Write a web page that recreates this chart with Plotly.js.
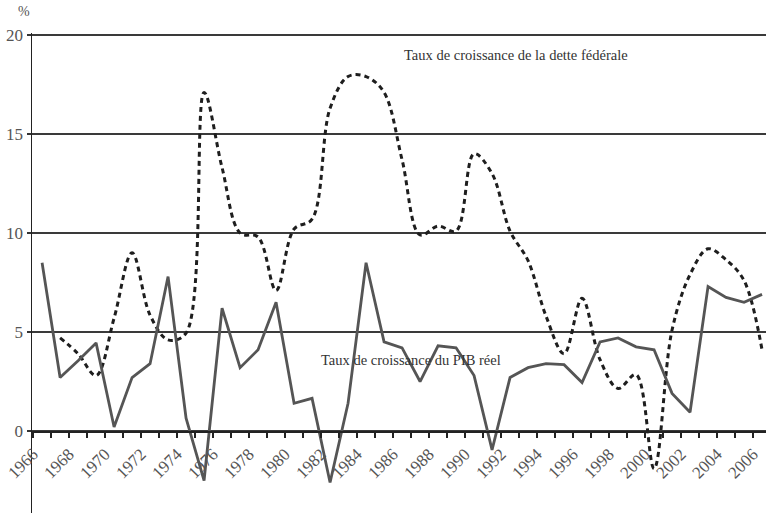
<!DOCTYPE html>
<html>
<head>
<meta charset="utf-8">
<script src="https://cdn.plot.ly/plotly-3.0.1.min.js"></script>
<style>html,body{margin:0;padding:0;background:#fff;}#chart{width:766px;height:513px;}</style>
</head>
<body>
<div id="chart"></div>
<script>
// Years (mid-year positions between yearly tick marks)
const years = [1966.5,1967.5,1968.5,1969.5,1970.5,1971.5,1972.5,1973.5,1974.5,1975.5,
  1976.5,1977.5,1978.5,1979.5,1980.5,1981.5,1982.5,1983.5,1984.5,1985.5,
  1986.5,1987.5,1988.5,1989.5,1990.5,1991.5,1992.5,1993.5,1994.5,1995.5,
  1996.5,1997.5,1998.5,1999.5,2000.5,2001.5,2002.5,2003.5,2004.5,2005.5,2006.5];

// Taux de croissance du PIB réel (%)
const pibReel = [8.5,2.7,3.55,4.45,0.2,2.7,3.4,7.8,0.65,-2.5,
  6.2,3.2,4.1,6.5,1.4,1.65,-2.6,1.4,8.5,4.5,
  4.2,2.5,4.3,4.2,2.8,-0.95,2.7,3.2,3.4,3.35,
  2.45,4.5,4.7,4.25,4.1,1.9,0.95,7.3,6.75,6.5,6.9];

// Taux de croissance de la dette fédérale (%)
const detteFederale = [null,4.7,3.9,2.8,5.7,9.0,5.85,4.6,4.95,17.1,
  13.3,10.0,9.8,7.1,10.2,10.7,16.3,17.9,17.9,17.1,
  13.7,9.9,10.35,10.1,14.0,13.0,10.1,8.6,5.8,3.9,
  6.7,3.6,2.15,2.85,-1.9,5.1,7.9,9.2,8.65,7.6,4.1];

const yTicks = [0,5,10,15,20];
const yRange = [-4.14, 20.1];
const xRange = [1965.94, 2006.72];

const serif = "'Liberation Serif', 'Times New Roman', serif";

const traces = [
  {x: years, y: detteFederale, type: 'scatter', mode: 'lines',
   line: {color: '#1e1e1e', width: 3, dash: '5px,4px', shape: 'spline', smoothing: 1},
   connectgaps: false, hoverinfo: 'skip'},
  {x: years, y: pibReel, type: 'scatter', mode: 'lines',
   line: {color: '#555555', width: 2.8}, hoverinfo: 'skip'}
];

const layout = {
  width: 766, height: 513,
  margin: {l: 32, r: 0, t: 33, b: 0},
  paper_bgcolor: '#fff', plot_bgcolor: '#fff',
  showlegend: false,
  font: {family: serif, color: '#555'},
  xaxis: {
    range: xRange, anchor: 'free',
    position: (0 - yRange[0]) / (yRange[1] - yRange[0]),
    tick0: 1966, dtick: 2, tickangle: -45,
    ticks: 'outside', ticklen: 5, tickwidth: 1.5, tickcolor: '#222',
    minor: {dtick: 1, ticks: 'outside', ticklen: 5, tickwidth: 1.5, tickcolor: '#222'},
    showline: true, linecolor: '#222', linewidth: 1.5,
    showgrid: false, zeroline: false,
    tickfont: {family: serif, size: 17, color: '#555'}
  },
  yaxis: {
    range: yRange, tickvals: yTicks, ticktext: yTicks.map(String),
    ticks: 'outside', ticklen: 4, tickwidth: 1.5, tickcolor: '#333',
    showline: true, linecolor: '#222', linewidth: 1.5,
    showgrid: true, gridcolor: '#3a3a3a', gridwidth: 1.6,
    zeroline: false,
    tickfont: {family: serif, size: 17, color: '#555'}
  },
  annotations: [
    {text: '%', xref: 'paper', yref: 'paper', x: -0.011, y: 1.044,
     showarrow: false, xanchor: 'center', yanchor: 'middle',
     font: {family: serif, size: 14, color: '#555'}},
    {text: 'Taux de croissance de la dette fédérale', xref: 'x', yref: 'y',
     x: 1986.5, y: 19.0, showarrow: false, xanchor: 'left', yanchor: 'middle',
     font: {family: serif, size: 14.5, color: '#333'}},
    {text: 'Taux de croissance du PIB réel', xref: 'x', yref: 'y',
     x: 1981.9, y: 3.6, showarrow: false, xanchor: 'left', yanchor: 'middle',
     font: {family: serif, size: 14.5, color: '#333'}}
  ]
};

Plotly.newPlot('chart', traces, layout, {staticPlot: true, displayModeBar: false});
</script>
</body>
</html>
